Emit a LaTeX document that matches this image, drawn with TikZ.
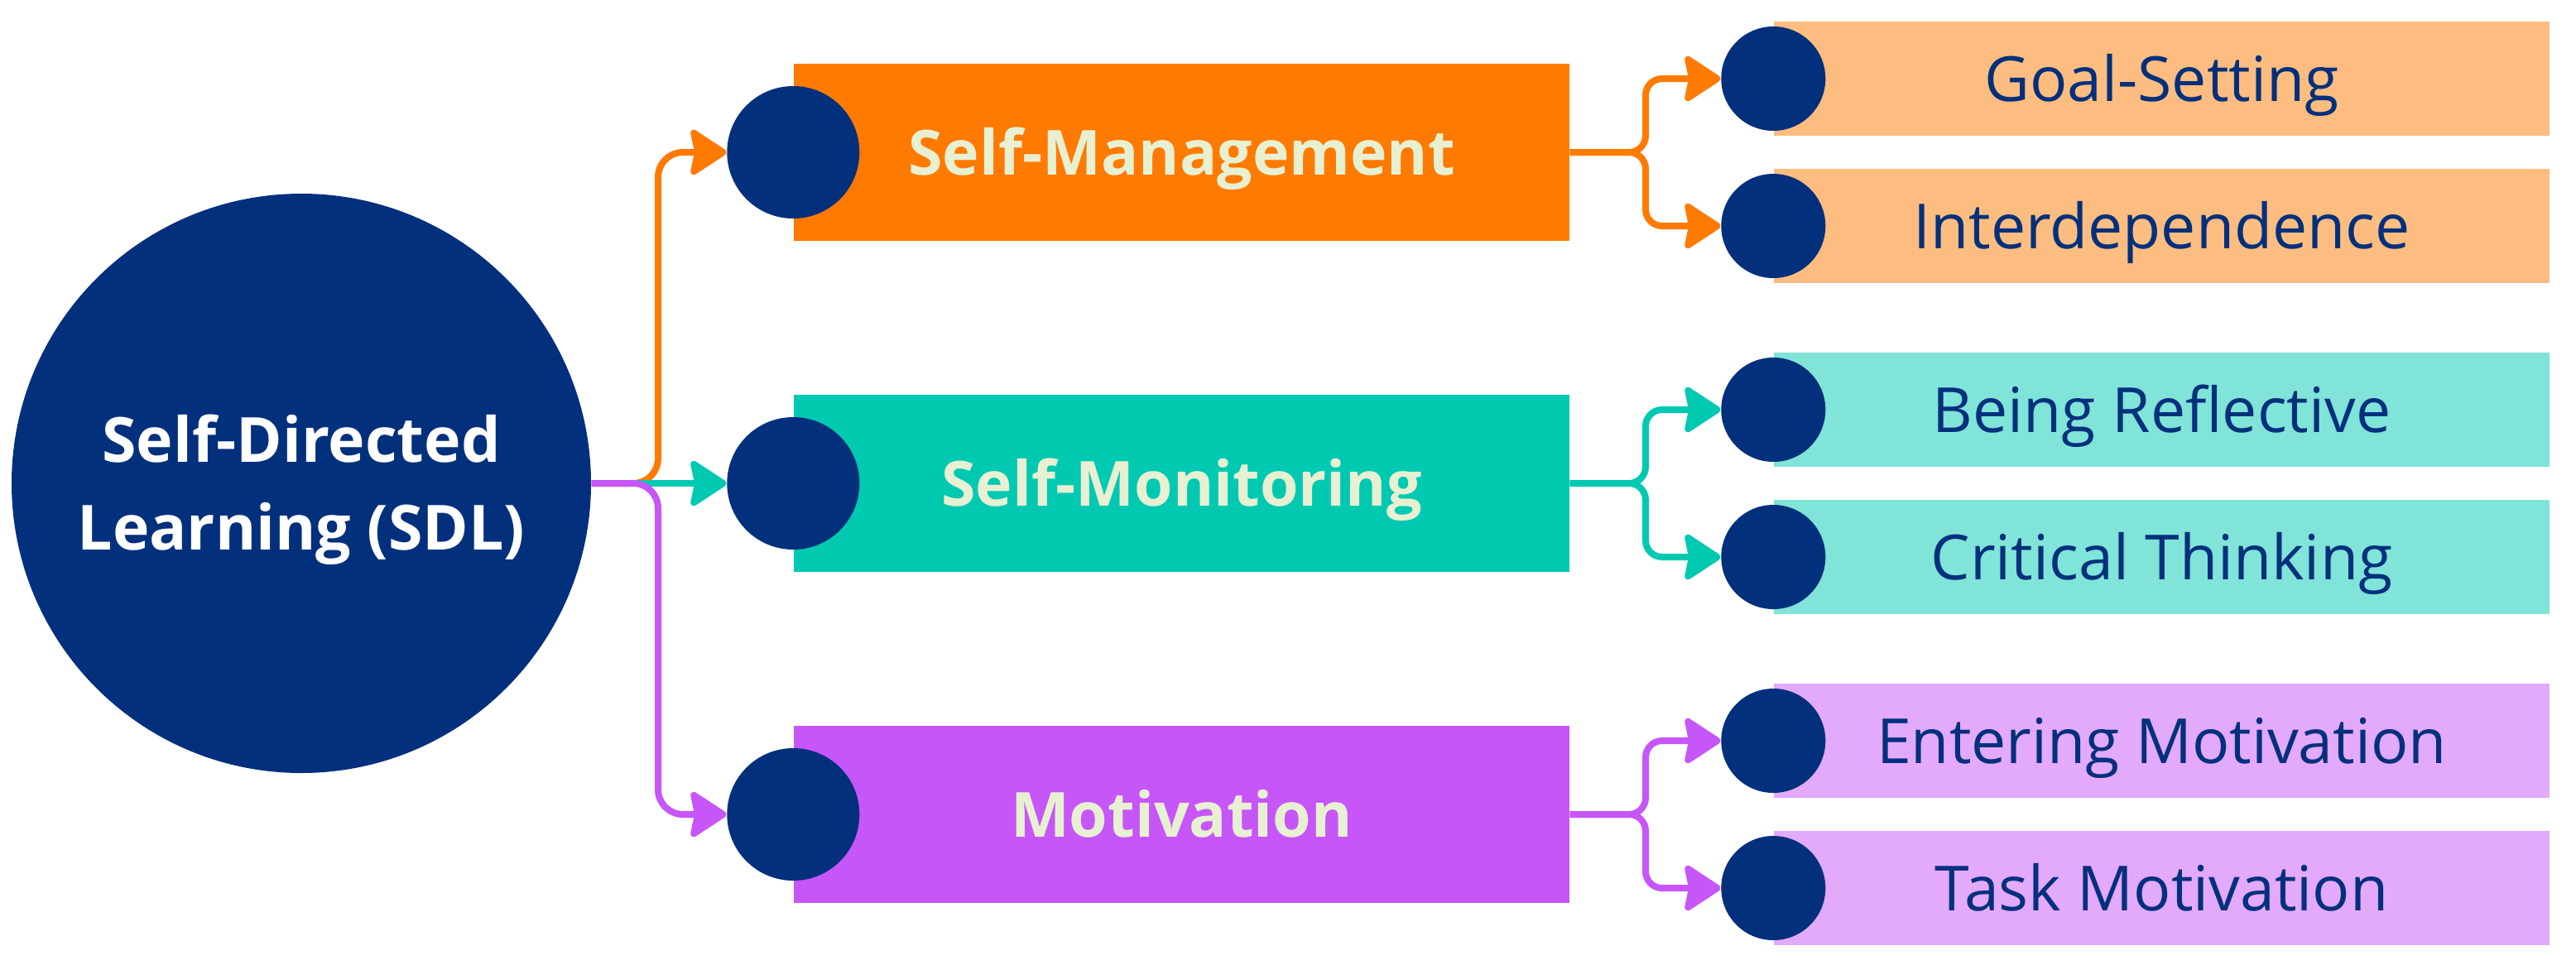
\documentclass[tikz,border=0pt]{standalone}
\usepackage{fontspec}
\setmainfont{Open Sans}
\usepackage{tikz}
\usetikzlibrary{arrows.meta,shapes,positioning}

\definecolor{sdlblue}{HTML}{03307C}
\definecolor{smorange}{HTML}{FF7A00}
\definecolor{smlight}{HTML}{FDBD80}
\definecolor{monteal}{HTML}{00C9B2}
\definecolor{monlight}{HTML}{80E4D8}
\definecolor{motpurple}{HTML}{C656F8}
\definecolor{motlight}{HTML}{E3A9FB}
\definecolor{headcream}{HTML}{E8F0D2}

\begin{document}
\begin{tikzpicture}[font=\fontsize{21.4}{30.1}\selectfont]
  \tikzstyle{main} = [circle, fill=sdlblue, text=white, minimum size=7cm, align=center, text height=1.80cm, text depth=0.20cm, font=\fontsize{21.4}{30.1}\selectfont\bfseries]
  \tikzstyle{head} = [rectangle, minimum width=9.37cm, minimum height=2.14cm, text=headcream, text height=0.54cm, text depth=0cm, font=\fontsize{21.4}{30.1}\selectfont\bfseries]
  \tikzstyle{leaf} = [rectangle, minimum width=9.37cm, minimum height=1.38cm, text=sdlblue, text height=0.54cm, text depth=0cm]
  \tikzstyle{bigdot} = [circle, fill=sdlblue, minimum size=1.6cm, inner sep=0pt]
  \tikzstyle{dot} = [circle, fill=sdlblue, minimum size=1.26cm, inner sep=0pt]
  \tikzstyle{arrow} = [draw, line width=0.08cm, -{Stealth[length=0.48cm, width=0.62cm, inset=0.06cm, round]}]

  \useasboundingbox (0,0) rectangle (31.12,-11.65);

  \node[main] (sdl) at (3.64,-5.84) {Self-Directed\\Learning (SDL)};

  \node[head, fill=smorange] (sm) at (14.275,-1.84) {Self-Management};
  \node[head, fill=monteal] (mon) at (14.275,-5.84) {Self-Monitoring};
  \node[head, fill=motpurple] (mot) at (14.275,-9.84) {Motivation};
  \node[bigdot] (sm dot) at (sm.west) {};
  \node[bigdot] (mon dot) at (mon.west) {};
  \node[bigdot] (mot dot) at (mot.west) {};

  \node[leaf, fill=smlight] (goal) at (26.115,-0.95) {Goal-Setting};
  \node[leaf, fill=smlight] (inter) at (26.115,-2.73) {Interdependence};
  \node[leaf, fill=monlight] (refl) at (26.115,-4.95) {Being Reflective};
  \node[leaf, fill=monlight] (crit) at (26.115,-6.73) {Critical Thinking};
  \node[leaf, fill=motlight] (enter) at (26.115,-8.95) {Entering Motivation};
  \node[leaf, fill=motlight] (task) at (26.115,-10.73) {Task Motivation};
  \node[dot] (goal dot) at (goal.west) {};
  \node[dot] (inter dot) at (inter.west) {};
  \node[dot] (refl dot) at (refl.west) {};
  \node[dot] (crit dot) at (crit.west) {};
  \node[dot] (enter dot) at (enter.west) {};
  \node[dot] (task dot) at (task.west) {};

  \coordinate (sdl split) at (7.95,-5.84);
  \coordinate (sm split) at (19.88,-1.84);
  \coordinate (mon split) at (19.88,-5.84);
  \coordinate (mot split) at (19.88,-9.84);

  \path[arrow, smorange, rounded corners=0.3cm] (sdl.east) -- (sdl split) |- (sm dot.west);
  \path[arrow, monteal] (sdl.east) -- (mon dot.west);
  \path[arrow, motpurple, rounded corners=0.3cm] (sdl.east) -- (sdl split) |- (mot dot.west);

  \path[arrow, smorange, rounded corners=0.2cm] (sm.east) -- (sm split) |- (goal dot.west);
  \path[arrow, smorange, rounded corners=0.2cm] (sm.east) -- (sm split) |- (inter dot.west);
  \path[arrow, monteal, rounded corners=0.2cm] (mon.east) -- (mon split) |- (refl dot.west);
  \path[arrow, monteal, rounded corners=0.2cm] (mon.east) -- (mon split) |- (crit dot.west);
  \path[arrow, motpurple, rounded corners=0.2cm] (mot.east) -- (mot split) |- (enter dot.west);
  \path[arrow, motpurple, rounded corners=0.2cm] (mot.east) -- (mot split) |- (task dot.west);
\end{tikzpicture}
\end{document}
